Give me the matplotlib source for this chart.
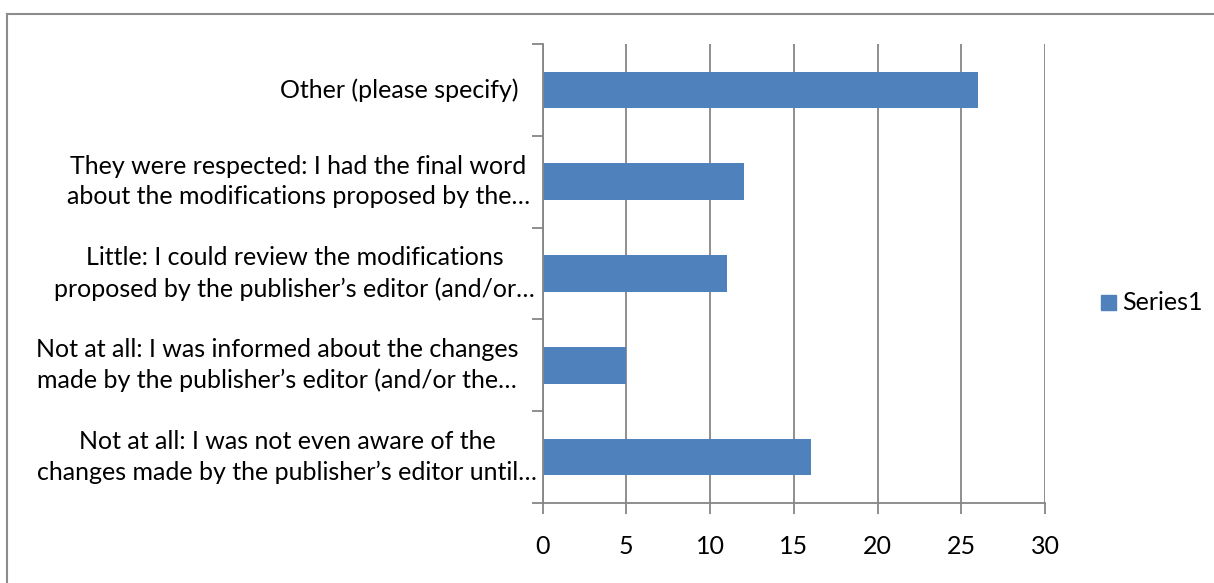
import matplotlib
matplotlib.use("Agg")
import matplotlib.pyplot as plt
from matplotlib.lines import Line2D
from matplotlib.patches import Rectangle

plt.rcParams['font.family'] = ['Lato', 'DejaVu Sans']

categories = [
    "Not at all: I was not even aware of the\nchanges made by the publisher\u2019s editor until\u2026",
    "Not at all: I was informed about the changes\nmade by the publisher\u2019s editor (and/or the\u2026",
    "Little: I could review the modifications\nproposed by the publisher\u2019s editor (and/or\u2026",
    "They were respected: I had the final word\nabout the modifications proposed by the\u2026",
    "Other (please specify)",
]
values = [16, 5, 11, 12, 26]
series_name = "Series1"
x_ticks = [0, 5, 10, 15, 20, 25, 30]

BAR = "#4F81BD"
GRID = "#868686"
FS = 18

fig = plt.figure(figsize=(12.14, 5.83), dpi=100)
W, H = 1214, 583

# outer chart frame (top and left edges visible)
fig.add_artist(Line2D([7 / W, 1.0], [1 - 14 / H, 1 - 14 / H], color="#8C8C8C", lw=1.5))
fig.add_artist(Line2D([7 / W, 7 / W], [0.0, 1 - 14 / H], color="#8C8C8C", lw=1.5))

AX_L, AX_R, AX_T, AX_B = 542.5, 1045, 44, 503
ax = fig.add_axes([AX_L / W, 1 - AX_B / H, (AX_R - AX_L) / W, (AX_B - AX_T) / H])

ypos = list(range(len(categories)))
ax.barh(ypos, values, height=0.4, color=BAR, zorder=3)

ax.set_xlim(0, 30)
ax.set_ylim(-0.5, len(categories) - 0.5)
ax.set_xticks(x_ticks)
ax.set_xticklabels([str(t) for t in x_ticks], fontsize=FS)
ax.set_yticks([])

# category labels, wrapped text blocks to the left of the axis
label_right_px = [537, 518, 535, 530, 518]
ytrans = ax.get_yaxis_transform()
for y, lab, rpx in zip(ypos, categories, label_right_px):
    ax.text((rpx - AX_L) / (AX_R - AX_L), y, lab, transform=ytrans, fontsize=FS,
            ha="right", va="center", multialignment="center", linespacing=1.38,
            clip_on=False)

# category boundary tick marks on the y axis
ax.set_yticks([i - 0.5 for i in range(len(categories) + 1)], minor=True)
ax.tick_params(axis="y", which="minor", length=8, width=1.3, color=GRID, direction="out")
ax.tick_params(axis="x", which="major", length=8, width=1.3, color=GRID, direction="out", pad=15)

ax.xaxis.grid(True, color=GRID, lw=1.3, zorder=0)
for s in ["top", "right"]:
    ax.spines[s].set_visible(False)
for s in ["left", "bottom"]:
    ax.spines[s].set_color(GRID)
    ax.spines[s].set_linewidth(1.3)
    ax.spines[s].set_zorder(4)

# legend
fig.add_artist(Rectangle((1101 / W, 1 - 310 / H), 15 / W, 15 / H, transform=fig.transFigure,
                         color=BAR))
fig.text(1122 / W, 1 - 302.5 / H, series_name, fontsize=FS, va="center", ha="left")

fig.savefig("out.png", dpi=100)
